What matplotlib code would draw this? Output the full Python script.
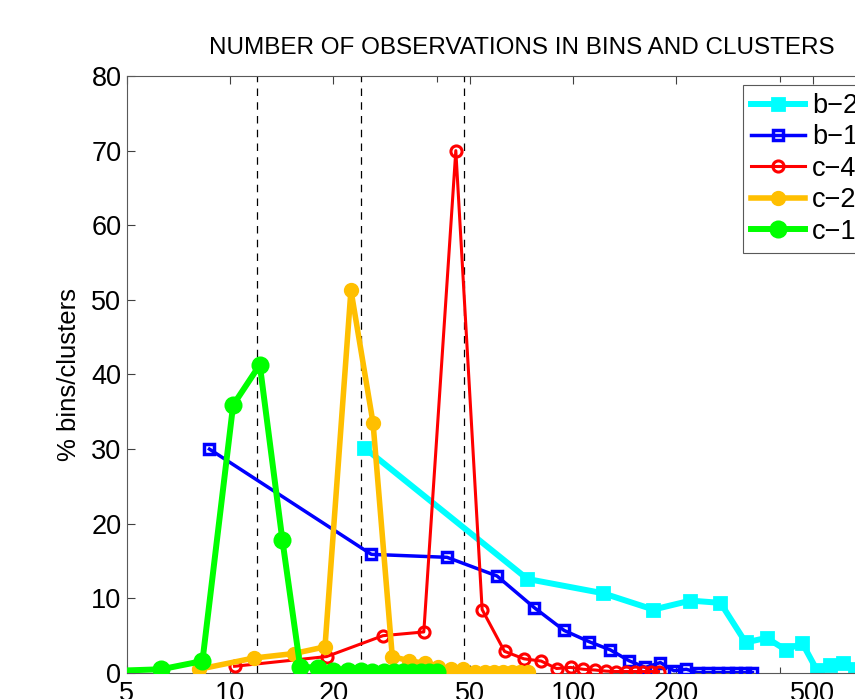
import matplotlib as mpl
mpl.use('Agg')
import matplotlib.pyplot as plt
from matplotlib.ticker import NullFormatter

plt.rcParams['font.family'] = ['Liberation Sans', 'DejaVu Sans']

# b-2 (bins, width ~49)
b2_x = [24.6, 73.6, 122, 171.5, 220, 269, 318.6, 367, 417, 466, 514, 562, 612, 662, 711]
b2_y = [30.2, 12.6, 10.7, 8.5, 9.7, 9.4, 4.1, 4.7, 3.1, 4.0, 0.4, 1.1, 1.3, 0.6, 0.3]

# b-1 (bins, width ~17)
b1_x = [8.7, 25.8, 42.9, 60.0, 77.1, 94.2, 111.3, 128.4, 145.5, 162.6,
        179.7, 196.8, 213.9, 231.0, 248.1, 265.2, 282.3, 299.4, 316.5, 333.6]
b1_y = [30.0, 15.9, 15.5, 13.0, 8.75, 5.7, 4.2, 3.1, 1.65, 0.75,
        1.4, 0.3, 0.5, 0.05, 0.05, 0.05, 0.05, 0.05, 0.05, 0.05]

# c-4 (clusters)
c4_x = [10.3, 19.1, 27.9, 36.7, 45.5, 54.3, 63.1, 71.9, 80.7, 89.5,
        98.3, 107.1, 115.9, 124.7, 133.5, 142.3, 151.1, 159.9, 168.7, 177.5]
c4_y = [0.9, 2.2, 5.0, 5.5, 70.0, 8.5, 2.9, 1.9, 1.6, 0.6,
        0.75, 0.5, 0.4, 0.25, 0.2, 0.2, 0.2, 0.2, 0.2, 0.2]

# c-2 (clusters)
c2_x = [8.1, 11.7, 15.3, 18.9, 22.5, 26.1, 29.7, 33.2, 36.9, 40.5,
        44.2, 47.9, 51.8, 55.4, 58.8, 62.6, 66.3, 70.0, 74.0]
c2_y = [0.5, 2.0, 2.6, 3.5, 51.3, 33.5, 2.2, 1.65, 1.3, 0.85,
        0.5, 0.6, 0.2, 0.2, 0.2, 0.2, 0.2, 0.2, 0.2]

# c-1 (clusters)
c1_x = [4.0, 6.3, 8.3, 10.2, 12.2, 14.2, 16.0, 18.0, 20.0, 22.0, 24.0,
        26.0, 28.0, 30.0, 32.0, 34.0, 36.0, 38.0, 40.0]
c1_y = [0.2, 0.5, 1.6, 35.9, 41.3, 17.8, 0.85, 0.7, 0.3, 0.25, 0.25,
        0.2, 0.2, 0.2, 0.2, 0.2, 0.2, 0.2, 0.2]

limits = [12, 24, 48]

fig = plt.figure(figsize=(8.55, 6.99), dpi=100)
ax = fig.add_axes([0.1485, 0.0372, 0.9228, 0.8541])

for v in limits:
    ax.axvline(v, color='k', linestyle=(0, (6, 5)), linewidth=0.9, zorder=1)

ax.plot(b2_x, b2_y, color=(0, 1, 1), lw=4.3, marker='s', ms=9, mfc=(0, 1, 1),
        mew=2, label='b\u22122', zorder=2)
ax.plot(b1_x, b1_y, color=(0, 0, 1), lw=2.5, marker='s', ms=7, mfc='none',
        mew=2.5, label='b\u22121', zorder=3)
ax.plot(c4_x, c4_y, color=(1, 0, 0), lw=2.2, marker='o', ms=8, mfc='none',
        mew=2.2, label='c\u22124', zorder=4)
ax.plot(c2_x, c2_y, color=(1, 0.75, 0), lw=4, marker='o', ms=9, mfc=(1, 0.75, 0),
        mew=2, label='c\u22122', zorder=5)
ax.plot(c1_x, c1_y, color=(0, 1, 0), lw=4.3, marker='o', ms=11, mfc=(0, 1, 0),
        mew=2, label='c\u22121', zorder=6)

ax.set_xscale('log')
ax.set_xlim(5, 1000)
ax.set_ylim(0, 80)
ax.set_xticks([5, 10, 20, 50, 100, 200, 500, 1000])
ax.set_xticklabels(['5', '10', '20', '50', '100', '200', '500', '1000'])
ax.set_xticks([40, 400], minor=True)
ax.xaxis.set_minor_formatter(NullFormatter())
ax.set_yticks(range(0, 81, 10))

ax.tick_params(which='both', direction='in', top=True, right=True, labelsize=19.5,
               color='0.25', width=0.8)
ax.tick_params(which='major', length=6)
ax.tick_params(which='minor', length=4)
ax.tick_params(axis='x', pad=6)
ax.tick_params(axis='y', pad=4)
for s in ax.spines.values():
    s.set_color('0.35')
    s.set_linewidth(0.8)

ax.set_ylabel('% bins/clusters', fontsize=18.5, labelpad=7)
ax.set_title('NUMBER OF OBSERVATIONS IN BINS AND CLUSTERS', fontsize=17.5, pad=16)

leg = ax.legend(loc='upper left', bbox_to_anchor=(0.781, 0.985), borderaxespad=0,
                fontsize=19.5, handlelength=2.0, labelspacing=0.2, fancybox=False,
                framealpha=1, edgecolor='0.35', borderpad=0.3, handletextpad=0.25)
leg.get_frame().set_linewidth(0.8)

fig.savefig('out.png', dpi=100)
plt.close(fig)
